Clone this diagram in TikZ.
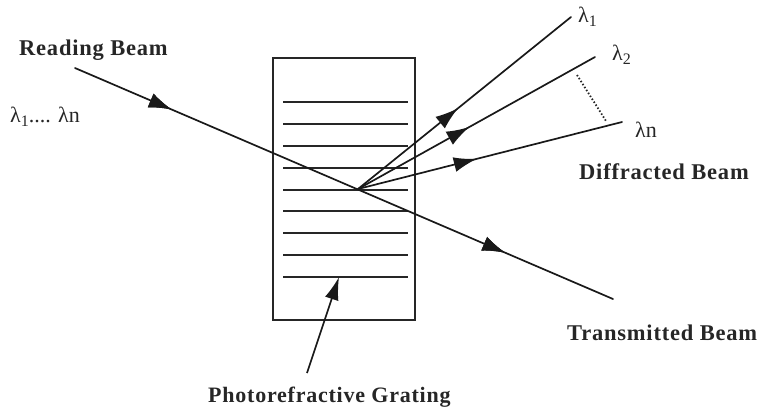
\documentclass[tikz,border=0pt]{standalone}
\usepackage{fontspec}
\setmainfont{Liberation Serif}
\newfontfamily\labelfont[LetterSpace=3.5]{Liberation Serif}
\usetikzlibrary{arrows.meta,decorations.markings}
\tikzset{
  beam/.style={draw=black!90,line width=1.7pt,line cap=round},
  headat/.style={postaction={decorate},decoration={markings,mark=at position #1 with {\arrow{Latex[length=23pt,width=15pt]}}}},
  pointer/.style={draw=black!90,line width=1.6pt,-{Latex[length=23pt,width=14pt]}},
  gratingline/.style={draw=black!85,line width=1.2pt},
  plate/.style={draw=black!85,line width=1.3pt},
  lbl/.style={font=\labelfont\bfseries\fontsize{22.5}{24}\selectfont,text=black!85,inner sep=0pt,anchor=west},
  wave/.style={font=\fontsize{22}{24}\selectfont,text=black!85,inner sep=0pt,anchor=west},
}
\begin{document}
\begin{tikzpicture}[x=1pt,y=-1pt]
\useasboundingbox (0,0) rectangle (760,408);
\draw[plate] (273,58) rectangle (415,320);
\foreach \yy/\nm in {102/a,124/b,146/c,168/d,190/e,211/f,233/g,255/h,277/i}{
  \coordinate (gl\nm) at (283,\yy);
  \coordinate (gr\nm) at (408,\yy);
  \draw[gratingline] (gl\nm) -- (gr\nm);
}
\coordinate (readstart) at (75,68);
\coordinate (transend) at (613,299);
\coordinate (origin) at (358,189);
\coordinate (endone) at (571,17);
\coordinate (endtwo) at (595,57);
\coordinate (endn) at (622,122);
\coordinate (dotA) at (577,75);
\coordinate (dotB) at (606,121);
\coordinate (ptrstart) at (307,373);
\coordinate (ptrtip) at (339,277);
\draw[beam,headat=0.18,headat=0.80] (readstart) -- (transend);
\draw[beam,headat=0.47] (origin) -- (endone);
\draw[beam,headat=0.47] (origin) -- (endtwo);
\draw[beam,headat=0.45] (origin) -- (endn);
\draw[draw=black!85,line width=1.8pt,dash pattern=on 1.5pt off 2pt] (dotA) -- (dotB);
\draw[pointer] (ptrstart) -- (ptrtip);
\node[lbl] (reading) at (19,50) {Reading Beam};
\node[wave] (range) at (10,117) {λ\raisebox{-4pt}{\fontsize{16}{16}\selectfont 1}.... λn};
\node[wave] (lone) at (578,17) {λ\raisebox{-4pt}{\fontsize{16}{16}\selectfont 1}};
\node[wave] (ltwo) at (612,55) {λ\raisebox{-4pt}{\fontsize{16}{16}\selectfont 2}};
\node[wave] (ln) at (635,130) {λn};
\node[lbl] (diff) at (579,172) {Diffracted Beam};
\node[lbl] (trans) at (567,333) {Transmitted Beam};
\node[lbl,anchor=base west,font=\labelfont\bfseries\fontsize{22}{24}\selectfont] (photo) at (208,402) {Photorefractive Grating};
\end{tikzpicture}
\end{document}
